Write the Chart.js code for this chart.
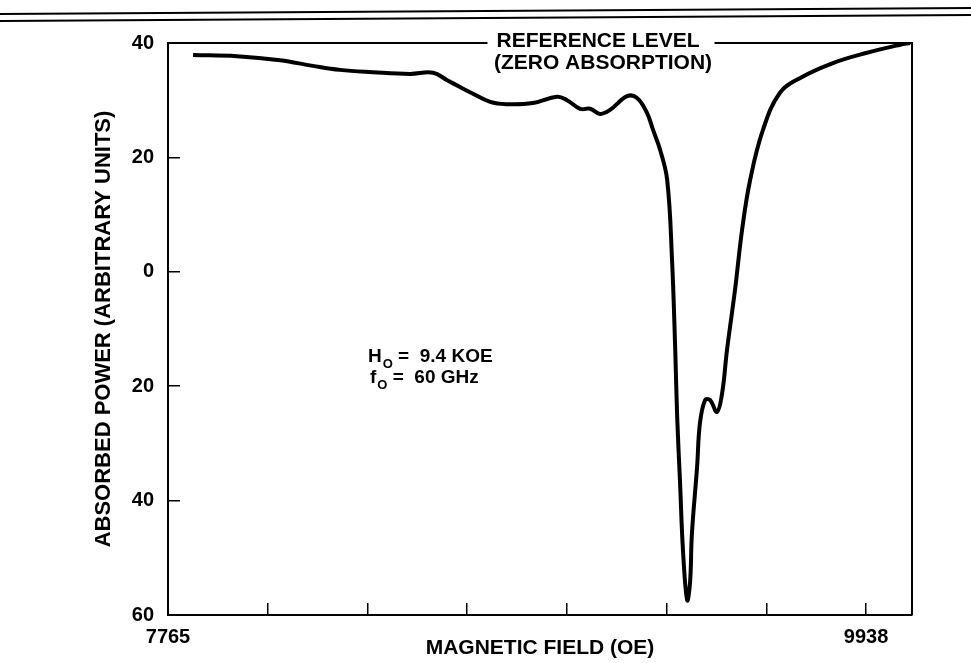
<!DOCTYPE html>
<html>
<head>
<meta charset="utf-8">
<script src="https://cdn.jsdelivr.net/npm/chart.js@4.4.0/dist/chart.umd.min.js"></script>
<style>
html,body{margin:0;padding:0;background:#fff;}
</style>
</head>
<body>
<canvas id="chart" width="971" height="663"></canvas>
<script>
// Values
const fieldOe=[7843,7980,8114,8216,8300,8403,8518,8590,8634,8674,8705,8768,8820,8901,8976,9007,9048,9079,9110,9141,9194,9225,9256,9275,9297,9319,9334,9344,9350,9359,9368,9381,9390,9396,9412,9421,9437,9452,9474,9490,9505,9530,9552,9577,9617,9670,9733,9835,9941,10044,10075];
const absorbed=[37.9,37.7,37.0,36.0,35.3,34.9,34.6,34.8,33.5,32.3,31.4,29.7,29.3,29.5,30.6,30.0,28.5,28.5,27.6,28.3,30.7,30.4,27.8,24.8,21.3,16.0,2.1,-13.7,-25.4,-36.9,-48.6,-57.4,-54.4,-45.7,-34.1,-26.4,-22.4,-22.4,-24.5,-21.2,-13.7,-3.2,7.3,16.0,24.8,31.3,33.9,36.5,38.3,39.7,40.0];

// Axes
const xTickValues=[7765,8075,8386,8696,9007,9317,9628,9938];
const xTickLabels=['7765','','','','','','','9938'];
const xMin=7765, xMax=10081;
const yTickValues=[40,20,0,-20,-40,-60];
const yTickLabels=['40','20','0','20','40','60'];

const FONT='"Liberation Sans", Arial, Helvetica, sans-serif';

function subText(ctx,x,y,main,sub,rest){
  ctx.font='bold 19px '+FONT;
  ctx.fillText(main,x,y);
  x+=ctx.measureText(main).width+1;
  ctx.font='bold 13px '+FONT;
  ctx.fillText(sub,x,y+7);
  x+=ctx.measureText(sub).width;
  ctx.font='bold 19px '+FONT;
  ctx.fillText(rest,x,y);
}

// Frame, page rules and labels
const framePlugin={
  id:'frame',
  beforeDraw(chart){
    const ctx=chart.ctx;
    ctx.save();
    ctx.fillStyle='#fff';
    ctx.fillRect(0,0,chart.width,chart.height);
    ctx.restore();
  },
  afterDraw(chart){
    const {ctx,chartArea:a}=chart;
    ctx.save();
    ctx.strokeStyle='#000';
    ctx.fillStyle='#000';
    // page rules
    ctx.lineWidth=2;
    ctx.beginPath();
    ctx.moveTo(0,14); ctx.lineTo(971,8);
    ctx.moveTo(0,21); ctx.lineTo(971,15);
    ctx.stroke();
    // top + right border, broken by the reference label
    ctx.font='bold 21px '+FONT;
    const cx=598;
    const w=ctx.measureText('REFERENCE LEVEL').width;
    ctx.lineWidth=2;
    ctx.beginPath();
    ctx.moveTo(a.left,a.top);
    ctx.lineTo(cx-w/2-9,a.top);
    ctx.moveTo(cx+w/2+15,a.top);
    ctx.lineTo(a.right,a.top);
    ctx.lineTo(a.right,a.bottom);
    ctx.stroke();
    ctx.textAlign='center';
    ctx.textBaseline='middle';
    ctx.fillText('REFERENCE LEVEL',cx,41);
    ctx.fillText('(ZERO ABSORPTION)',cx+5,63);
    // parameters
    ctx.textAlign='left';
    subText(ctx,368,357,'H','O',' =  9.4 KOE');
    subText(ctx,370,378,'f','O',' =  60 GHz');
    ctx.restore();
  }
};

new Chart(document.getElementById('chart').getContext('2d'),{
  type:'line',
  data:{
    datasets:[{
      data:fieldOe.map((x,i)=>({x:x,y:absorbed[i]})),
      borderColor:'#000',
      borderWidth:4,
      pointRadius:0,
      fill:false,
      tension:0.4
    }]
  },
  options:{
    responsive:false,
    animation:false,
    devicePixelRatio:1,
    layout:{padding:{left:0,right:59,top:43,bottom:0}},
    plugins:{legend:{display:false},tooltip:{enabled:false}},
    scales:{
      x:{
        type:'linear',
        min:xMin,max:xMax,
        afterBuildTicks:axis=>{axis.ticks=xTickValues.map(v=>({value:v}));},
        afterFit:s=>{s.height=48;},
        border:{display:true,color:'#000',width:2},
        grid:{drawOnChartArea:false,drawTicks:true,tickLength:-12,color:'#000',lineWidth:1.5},
        ticks:{
          autoSkip:false,maxRotation:0,padding:22,color:'#000',
          font:{family:FONT,weight:'bold',size:20},
          callback:v=>xTickLabels[xTickValues.indexOf(v)]||''
        },
        title:{display:true,text:'MAGNETIC FIELD (OE)',color:'#000',
          font:{family:FONT,weight:'bold',size:21},padding:{top:0,bottom:2}}
      },
      y:{
        type:'linear',
        min:-60,max:40,
        afterBuildTicks:axis=>{axis.ticks=yTickValues.map(v=>({value:v}));},
        afterFit:s=>{s.width=168;},
        border:{display:true,color:'#000',width:2},
        grid:{drawOnChartArea:false,drawTicks:true,tickLength:-12,color:'#000',lineWidth:1.5},
        ticks:{
          autoSkip:false,padding:26,color:'#000',
          font:{family:FONT,weight:'bold',size:20},
          callback:v=>yTickLabels[yTickValues.indexOf(v)]
        },
        title:{display:true,text:'ABSORBED POWER (ARBITRARY UNITS)',color:'#000',
          font:{family:FONT,weight:'bold',size:22},padding:{top:91,bottom:0}}
      }
    }
  },
  plugins:[framePlugin]
});
</script>
</body>
</html>
